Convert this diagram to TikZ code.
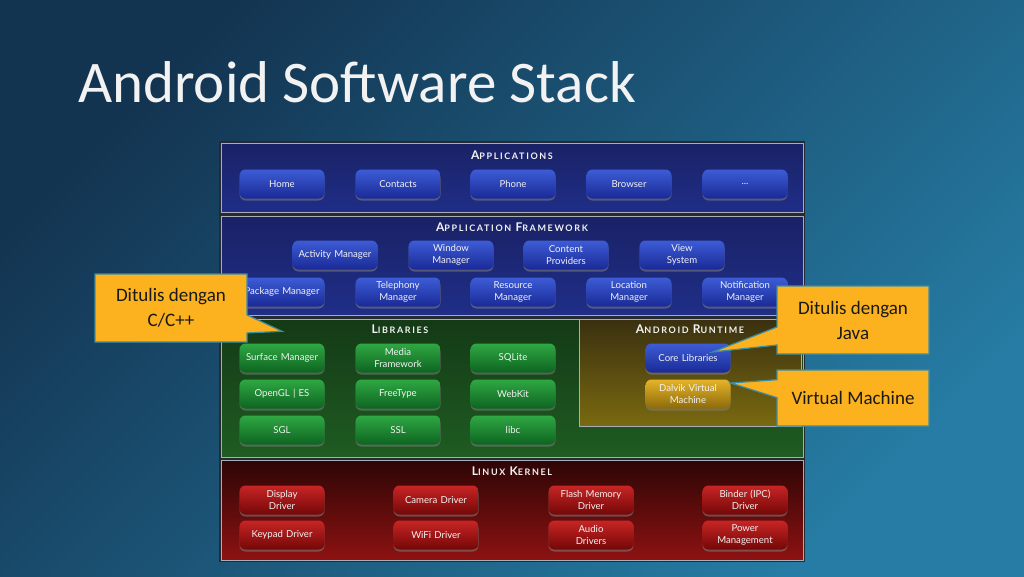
\documentclass[tikz,border=0pt]{standalone}
\usepackage{fontspec}
\setmainfont{Lato}
\newfontfamily\slidefont{Carlito}
\newfontfamily\headfont[LetterSpace=18]{Lato}
\usetikzlibrary{shapes.callouts,shadows,calc}

\definecolor{bgdark}{HTML}{133451}
\definecolor{bglight}{HTML}{267CA4}
\definecolor{titlewhite}{HTML}{F2F2F2}
\definecolor{framedark}{HTML}{262B33}
\definecolor{bandedge}{HTML}{A8ADB8}
\definecolor{appbandtop}{HTML}{1A2266}
\definecolor{appbandbot}{HTML}{1F2E88}
\definecolor{libbandtop}{HTML}{143A16}
\definecolor{libbandbot}{HTML}{1F5C22}
\definecolor{rtbandtop}{HTML}{3A3010}
\definecolor{rtbandbot}{HTML}{7A6A10}
\definecolor{kbandtop}{HTML}{2E0505}
\definecolor{kbandbot}{HTML}{8E1212}
\definecolor{bluetop}{HTML}{3D5CD6}
\definecolor{bluebot}{HTML}{1A2A96}
\definecolor{greentop}{HTML}{2FA844}
\definecolor{greenbot}{HTML}{0E6420}
\definecolor{redtop}{HTML}{C82424}
\definecolor{redbot}{HTML}{740808}
\definecolor{goldtop}{HTML}{E6B428}
\definecolor{goldbot}{HTML}{8C6A0C}
\definecolor{noteorange}{HTML}{FBB21E}
\definecolor{noteedge}{HTML}{3B8DA2}

\newcommand{\hdbig}[1]{{\fontsize{12}{12}\selectfont #1}}
\newcommand{\hdsmall}[1]{{\fontsize{9}{9}\selectfont #1}}

\begin{document}
\begin{tikzpicture}[x=1pt,y=-1pt,
    band/.style={draw=bandedge, line width=1pt, anchor=north west, inner sep=0pt},
    layertitle/.style={text=titlewhite, font=\headfont\bfseries, inner sep=0pt},
    block/.style={rounded corners=6pt, minimum width=85, minimum height=29, text width=82, align=center, inner sep=0pt, text=titlewhite, font=\fontsize{9.6}{12}\selectfont, drop shadow={shadow xshift=0pt, shadow yshift=-2pt, opacity=.55}},
    appblock/.style={block, top color=bluetop, bottom color=bluebot},
    libblock/.style={block, top color=greentop, bottom color=greenbot},
    rtblock/.style={block, top color=goldtop, bottom color=goldbot},
    kblock/.style={block, top color=redtop, bottom color=redbot},
    note/.style={rectangle callout, fill=noteorange, draw=noteedge, line width=1.2pt, minimum width=152, minimum height=68, align=center, text=black!90, font=\slidefont\fontsize{19}{25}\selectfont, callout pointer width=18pt}]

    \useasboundingbox (0,0) rectangle (1024,576);
    \shade[top color=bgdark, bottom color=bglight, shading angle=45] (0,0) rectangle (1024,576);

    \node[anchor=base west, inner sep=0pt, text=titlewhite, font=\slidefont\fontsize{59}{59}\selectfont] (title) at (78,102) {Android Software Stack};

    \fill[framedark] (219,141) rectangle (805,562);

    \node[band, top color=appbandtop, bottom color=appbandbot, minimum width=582, minimum height=69] (appband) at (221,143) {};
    \node[band, top color=appbandtop, bottom color=appbandbot, minimum width=582, minimum height=99] (fwband) at (221,216) {};
    \node[band, top color=libbandtop, bottom color=libbandbot, minimum width=582, minimum height=138] (libband) at (221,319) {};
    \node[band, top color=rtbandtop, bottom color=rtbandbot, minimum width=222, minimum height=107] (rtband) at (579,319) {};
    \node[band, top color=kbandtop, bottom color=kbandbot, minimum width=582, minimum height=100] (kband) at (221,460) {};

    \node[layertitle] (apptitle) at (512,155) {\hdbig{A}\hdsmall{PPLICATIONS}};
    \node[layertitle] (fwtitle) at (512,227) {\hdbig{A}\hdsmall{PPLICATION} \hdbig{F}\hdsmall{RAMEWORK}};
    \node[layertitle] (libtitle) at (400,329) {\hdbig{L}\hdsmall{IBRARIES}};
    \node[layertitle] (rttitle) at (690,329) {\hdbig{A}\hdsmall{NDROID} \hdbig{R}\hdsmall{UNTIME}};
    \node[layertitle] (ktitle) at (512,471) {\hdbig{L}\hdsmall{INUX} \hdbig{K}\hdsmall{ERNEL}};

    \node[appblock] (home) at (282,184) {Home};
    \node[appblock] (contacts) at (398,184) {Contacts};
    \node[appblock] (phone) at (513,184) {Phone};
    \node[appblock] (browser) at (629,184) {Browser};
    \node[appblock] (moreapps) at (745,184) {...};

    \node[appblock] (activity) at (335,255) {Activity Manager};
    \node[appblock] (window) at (451,255) {Window\\Manager};
    \node[appblock] (content) at (566,255) {Content\\Providers};
    \node[appblock] (view) at (682,255) {View\\System};
    \node[appblock] (package) at (282,292) {Package Manager};
    \node[appblock] (telephony) at (398,292) {Telephony\\Manager};
    \node[appblock] (resource) at (513,292) {Resource\\Manager};
    \node[appblock] (location) at (629,292) {Location\\Manager};
    \node[appblock] (notification) at (745,292) {Notification\\Manager};

    \node[libblock] (surf) at (282,358) {Surface Manager};
    \node[libblock] (media) at (398,358) {Media\\Framework};
    \node[libblock] (sqlite) at (513,358) {SQLite};
    \node[libblock] (opengl) at (282,394) {OpenGL | ES};
    \node[libblock] (freetype) at (398,394) {FreeType};
    \node[libblock] (webkit) at (513,394) {WebKit};
    \node[libblock] (sgl) at (282,430) {SGL};
    \node[libblock] (ssl) at (398,430) {SSL};
    \node[libblock] (libc) at (513,430) {libc};

    \node[appblock] (core) at (688,358) {Core Libraries};
    \node[rtblock] (dalvik) at (688,394) {Dalvik Virtual\\Machine};

    \node[kblock] (display) at (282,500) {Display\\Driver};
    \node[kblock] (camera) at (436,500) {Camera Driver};
    \node[kblock] (flash) at (591,500) {Flash Memory\\Driver};
    \node[kblock] (binder) at (745,500) {Binder (IPC)\\Driver};
    \node[kblock] (keypad) at (282,535) {Keypad Driver};
    \node[kblock] (wifi) at (436,535) {WiFi Driver};
    \node[kblock] (audio) at (591,535) {Audio\\Drivers};
    \node[kblock] (power) at (745,535) {Power\\Management};

    \coordinate (cpptip) at ($(surf.north)+(0,-12)$);
    \coordinate (javatip) at ($(core.east)+(-18,-6)$);
    \coordinate (vmtip) at ($(dalvik.east)+(0,-11)$);

    \node[note, callout absolute pointer=(cpptip)] (cppnote) at (171,308) {Ditulis dengan\\C/C++};
    \node[note, callout absolute pointer=(javatip)] (javanote) at (853,320) {Ditulis dengan\\Java};
    \node[note, minimum height=56, callout absolute pointer=(vmtip)] (vmnote) at (853,398) {Virtual Machine};
\end{tikzpicture}
\end{document}
